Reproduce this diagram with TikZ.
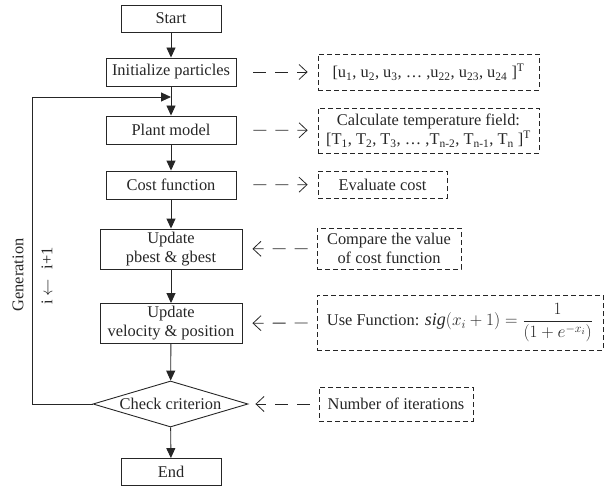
\documentclass[tikz,border=0pt]{standalone}
\usepackage{fontspec}
\setmainfont{Liberation Serif}
\usepackage{amsmath}
\usetikzlibrary{shapes.geometric,arrows.meta}

\begin{document}
\begin{tikzpicture}[x=1pt,y=-1pt,line width=0.9pt,color=black!85,
    font=\fontsize{16.4}{19}\selectfont,
    base/.style={rectangle,draw,minimum width=130pt,minimum height=28pt,inner sep=1pt,align=center},
    ends/.style={base,minimum width=100pt,minimum height=27pt},
    wide/.style={base,minimum width=142pt,minimum height=40pt},
    check/.style={diamond,draw,aspect=3.4,minimum width=155pt,minimum height=46pt,inner sep=0pt},
    note/.style={rectangle,draw,dash pattern=on 5pt off 3pt,line width=0.8pt,inner sep=1pt,align=center},
    flow/.style={-{Triangle[length=10pt,width=9pt]}},
    dasharrow/.style={dash pattern=on 13pt off 9pt,line width=0.8pt,-{Straight Barb[length=8pt,width=15pt]}}]

    \useasboundingbox (0,0) rectangle (610,492);

    % main flow
    \node[ends] (start) at (171,18.5) {Start};
    \node[base] (init) at (171,72) {Initialize particles};
    \node[base] (plant) at (171,130) {Plant model};
    \node[base] (cost) at (171,185) {Cost function};
    \node[wide] (pbest) at (171,249) {Update\\pbest \& gbest};
    \node[wide] (velo) at (171,323.5) {Update\\velocity \& position};
    \node[check] (crit) at (170.5,404) {Check criterion};
    \node[ends] (end) at (171,472) {End};

    % side notes
    \node[note,minimum width=221pt,minimum height=36pt] (unote) at (428.5,72)
    {[u\textsubscript{1}, u\textsubscript{2}, u\textsubscript{3}, \dots\ ,u\textsubscript{22}, u\textsubscript{23}, u\textsubscript{24} ]\textsuperscript{T}};
    \node[note,minimum width=221pt,minimum height=45pt] (tnote) at (428.5,130.5)
    {Calculate temperature field:\\{}[T\textsubscript{1}, T\textsubscript{2}, T\textsubscript{3}, \dots\ ,T\textsubscript{n-2}, T\textsubscript{n-1}, T\textsubscript{n} ]\textsuperscript{T}};
    \node[note,minimum width=129pt,minimum height=27pt] (enote) at (382.5,184.5) {Evaluate cost};
    \node[note,minimum width=144pt,minimum height=41pt] (cnote) at (389,248.5) {Compare the value\\of cost function};
    \node[note,minimum width=286pt,minimum height=55pt] (fnote) at (460,322.5)
    {Use Function: {\fontsize{18}{21}\selectfont $\mathit{sig}(x_{i}+1)=\dfrac{1}{(1+e^{-x_{i}})}$}};
    \node[note,minimum width=154pt,minimum height=34pt] (inote) at (396,404) {Number of iterations};

    % loop labels
    \node[rotate=90] (gen) at (18,275) {Generation};
    \node[rotate=90] (incr) at (47,276) {i\hspace{4pt}$\leftarrow$\hspace{10pt}i+1};

    \coordinate (corner) at (32,97);
    \coordinate (join) at (171,97);

    \draw[flow] (start) -- (init);
    \draw[flow] (init) -- (plant);
    \draw[flow] (plant) -- (cost);
    \draw[flow] (cost) -- (pbest);
    \draw[flow] (pbest) -- (velo);
    \draw[flow] (velo) -- (crit);
    \draw[flow] (crit) -- (end);
    \draw[flow] (crit.west) -| (corner) -- (join);

    \draw[dasharrow,shorten <=17pt,shorten >=10pt] (init) -- (unote);
    \draw[dasharrow,shorten <=17pt,shorten >=10pt] (plant) -- (tnote);
    \draw[dasharrow,shorten <=17pt,shorten >=10pt] (cost) -- (enote);
    \draw[dasharrow,shorten <=9pt,shorten >=10pt] (cnote) -- (pbest);
    \draw[dasharrow,shorten <=9pt,shorten >=10pt] (fnote) -- (velo);
    \draw[dasharrow,shorten <=9pt,shorten >=7pt] (inote) -- (crit);
\end{tikzpicture}
\end{document}
